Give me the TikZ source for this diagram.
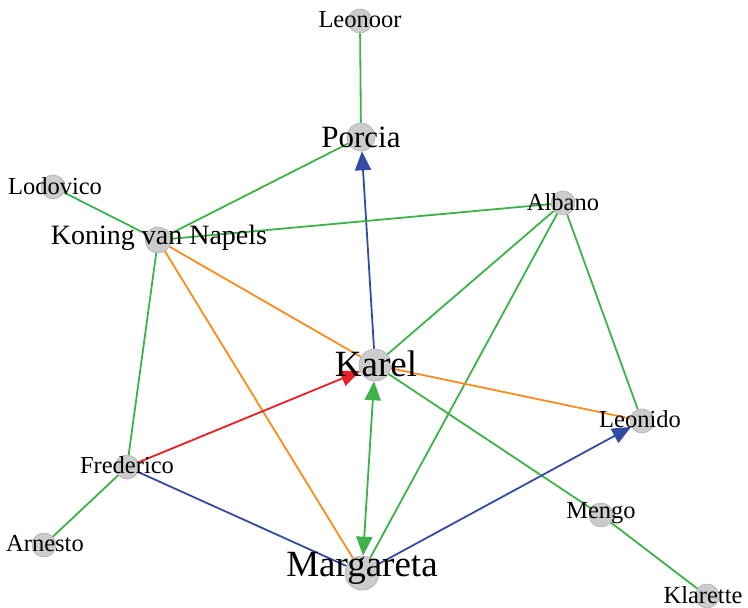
\documentclass[tikz,border=0pt]{standalone}
\usepackage{fontspec}
\setmainfont{Liberation Serif}
\usetikzlibrary{arrows.meta}
\definecolor{eg}{RGB}{60,178,72}
\definecolor{eo}{RGB}{250,140,30}
\definecolor{eb}{RGB}{50,75,165}
\definecolor{er}{RGB}{235,30,35}
\definecolor{nf}{RGB}{204,204,204}
\definecolor{nd}{RGB}{175,175,175}
\tikzset{
  vert/.style={circle,fill=nf,draw=nd,line width=0.6bp,inner sep=0pt,minimum size=#1},
  lab/.style={inner sep=0pt,text=black,font=\fontsize{#1}{#1}\selectfont},
  edge/.style={line width=1.8bp},
  tip/.style={-{Triangle[length=19bp,width=16bp]}},
}
\begin{document}
\begin{tikzpicture}[x=1bp,y=-1bp]
\useasboundingbox (0,0) rectangle (748,608);
% vertices
\node[vert=24bp] (leonoor) at (360,21) {};
\node[vert=28bp] (porcia) at (361,137) {};
\node[vert=24bp] (lodovico) at (53,187) {};
\node[vert=26bp] (koning) at (158,240) {};
\node[vert=24bp] (albano) at (563,203) {};
\node[vert=32bp] (karel) at (375,365) {};
\node[vert=24bp] (leonido) at (642,421) {};
\node[vert=24bp] (frederico) at (127,467) {};
\node[vert=24bp] (arnesto) at (44,545) {};
\node[vert=34bp] (margareta) at (362,573) {};
\node[vert=24bp] (mengo) at (601,515) {};
\node[vert=24bp] (klarette) at (707,596) {};
% edges
\draw[edge,eg] (leonoor) -- (porcia);
\draw[edge,eg] (porcia) -- (koning);
\draw[edge,eb,tip] (karel) -- (porcia);
\draw[edge,eg] (lodovico) -- (koning);
\draw[edge,eg] (koning) -- (albano);
\draw[edge,eo] (koning) -- (karel);
\draw[edge,eo] (koning) -- (margareta);
\draw[edge,eg] (koning) -- (frederico);
\draw[edge,eg] (albano) -- (karel);
\draw[edge,eg] (albano) -- (margareta);
\draw[edge,eg] (albano) -- (leonido);
\draw[edge,eo] (karel) -- (leonido);
\draw[edge,eg] (karel) -- (mengo);
\draw[edge,eg] (mengo) -- (klarette);
\draw[edge,er,tip] (frederico) -- (karel);
\draw[edge,eg,{Triangle[length=19bp,width=16bp]}-{Triangle[length=19bp,width=16bp]}] (karel) -- (margareta);
\draw[edge,eb] (frederico) -- (margareta);
\draw[edge,eb,tip] (margareta) -- (leonido);
\draw[edge,eg] (frederico) -- (arnesto);
% labels
\node[lab=24.5bp] (tleonoor) at (360,20) {Leonoor};
\node[lab=31bp] (tporcia) at (361,137) {Porcia};
\node[lab=24.5bp] (tlodovico) at (55,186) {Lodovico};
\node[lab=28bp] (tkoning) at (159,238) {Koning van Napels};
\node[lab=24.5bp] (talbano) at (563,202) {Albano};
\node[lab=37bp] (tkarel) at (376,364) {Karel};
\node[lab=24.5bp] (tleonido) at (640,419) {Leonido};
\node[lab=24.5bp] (tfrederico) at (127,465) {Frederico};
\node[lab=24.5bp] (tarnesto) at (45,544) {Arnesto};
\node[lab=37bp] (tmargareta) at (362,568) {Margareta};
\node[lab=24.5bp] (tmengo) at (601,513) {Mengo};
\node[lab=24.5bp] (tklarette) at (703,595) {Klarette};
\end{tikzpicture}
\end{document}
